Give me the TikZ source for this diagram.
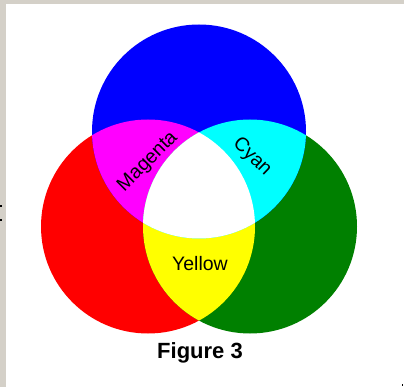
\documentclass[tikz,border=0pt]{standalone}
\usepackage{fontspec}
\setmainfont{Liberation Sans}
\definecolor{frame}{RGB}{212,208,200}
\definecolor{cRed}{RGB}{255,0,0}
\definecolor{cGreen}{RGB}{0,128,0}
\definecolor{cBlue}{RGB}{0,0,255}
\definecolor{cMag}{RGB}{255,0,255}
\definecolor{cCyan}{RGB}{0,255,255}
\definecolor{cYel}{RGB}{255,255,0}
\begin{document}
\begin{tikzpicture}[x=1pt,y=-1pt,
  lbl/.style={font=\fontsize{19.5}{20}\selectfont, text=black, inner sep=0pt},
  figcaption/.style={font=\fontsize{22}{22}\selectfont\bfseries, text=black, inner sep=0pt}]
\useasboundingbox (0,0) rectangle (404,387);
\fill[frame] (0,0) rectangle (404,387);
\fill[white] (6,4) rectangle (404,387);
\fill[black] (0,205) rectangle (2,207);
\fill[black] (0,219) rectangle (2,221);
\fill[black] (402,384) rectangle (403,386);
\def\R{107}
\coordinate (cb) at (199,131.5);
\coordinate (cr) at (148,226.5);
\coordinate (cg) at (250,226.5);
\fill[cRed] (cr) circle (\R);
\fill[cGreen] (cg) circle (\R);
\fill[cBlue] (cb) circle (\R);
\begin{scope}
  \clip (cr) circle (\R);
  \fill[cMag] (cb) circle (\R);
  \fill[cYel] (cg) circle (\R);
\end{scope}
\begin{scope}
  \clip (cg) circle (\R);
  \fill[cCyan] (cb) circle (\R);
\end{scope}
\begin{scope}
  \clip (cr) circle (\R);
  \clip (cg) circle (\R);
  \fill[white] (cb) circle (\R);
\end{scope}
\node[lbl, rotate=45] (mag) at (148,162) {Magenta};
\node[lbl, rotate=-44] (cyan) at (252,157) {Cyan};
\node[lbl, anchor=base] (yel) at (200,270) {Yellow};
\node[figcaption, anchor=base] (fig) at (200,358) {Figure 3};
\end{tikzpicture}
\end{document}
